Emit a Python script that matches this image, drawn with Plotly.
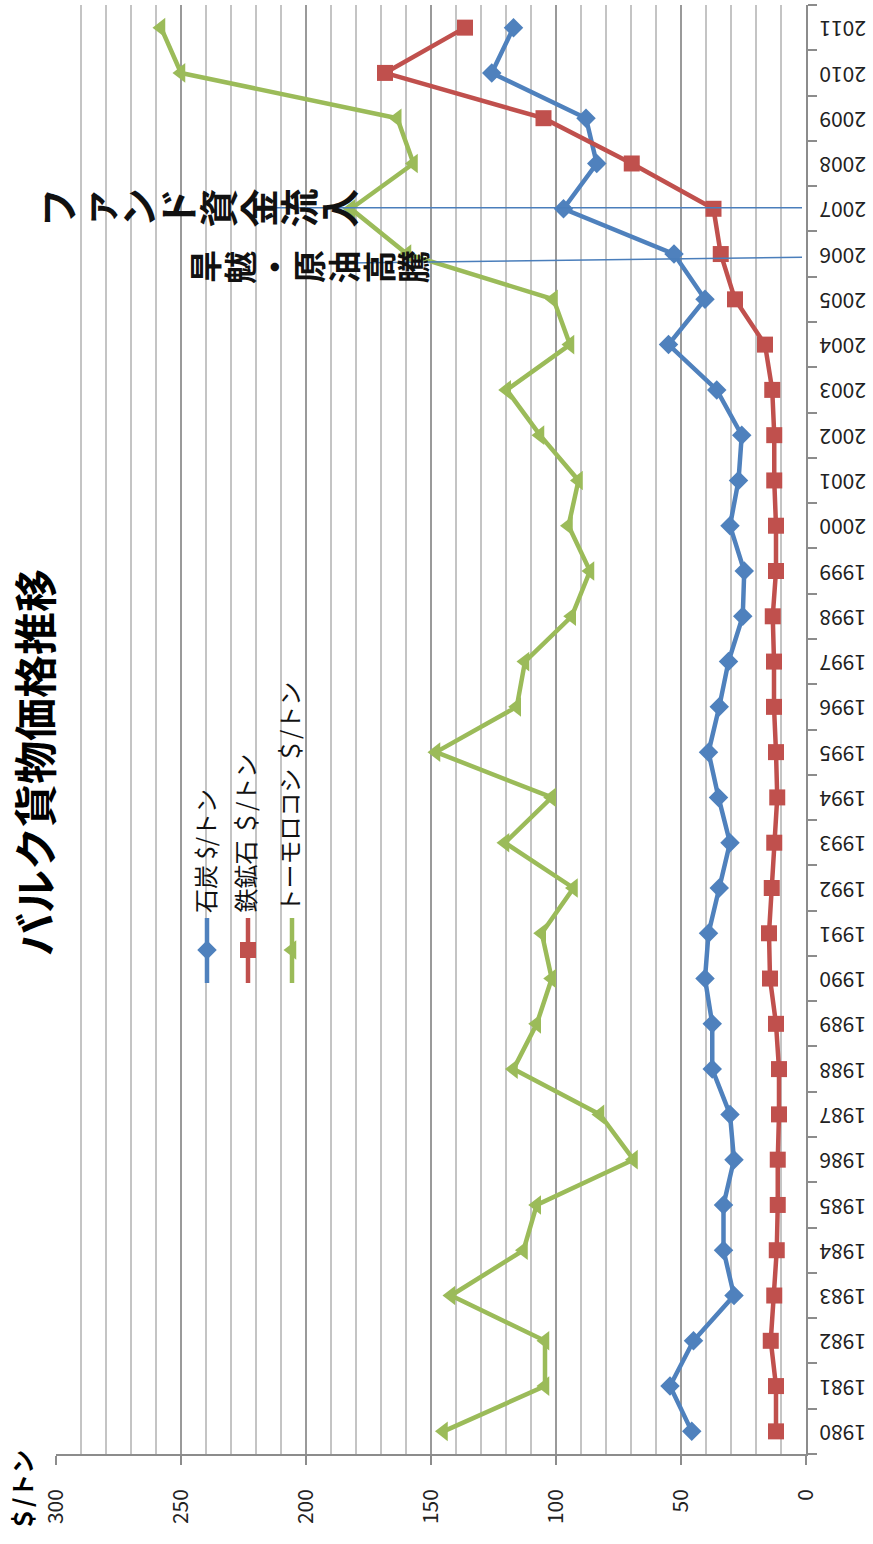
import plotly.graph_objects as go

# ---- data -------------------------------------------------------------
years = list(range(1980, 2012))

coal = [45.7, 54.4, 45.0, 28.8, 33.0, 33.0, 28.8, 30.4, 37.5, 37.5,
        40.4, 39.0, 34.7, 30.4, 35.0, 39.0, 34.7, 31.0, 25.3, 24.7,
        30.4, 27.0, 25.7, 35.7, 55.0, 40.4, 52.8, 97.0, 83.7, 88.0,
        125.7, 117.0]

iron_ore = [12.0, 12.0, 14.1, 12.7, 11.7, 11.3, 11.3, 10.8, 10.8, 12.0,
            14.4, 14.8, 13.7, 12.7, 11.5, 12.0, 12.8, 12.8, 13.3, 12.0,
            12.0, 12.7, 12.7, 13.5, 16.4, 28.4, 34.1, 37.0, 69.7, 105.0,
            168.4, 136.4]

corn = [145.0, 104.4, 104.4, 142.0, 113.0, 107.7, 69.0, 82.4, 117.0, 107.7,
        101.7, 105.7, 93.0, 120.4, 101.7, 148.0, 115.7, 112.4, 93.7, 86.4,
        95.0, 91.0, 106.4, 119.7, 94.4, 101.0, 159.6, 182.0, 157.0, 163.5,
        250.0, 258.0]

series_names = ["石炭 $/トン", "鉄鉱石 ＄/トン", "トーモロコシ ＄/トン"]
series_values = [coal, iron_ore, corn]
series_colors = ["#4F81BD", "#C0504D", "#9BBB59"]
series_symbols = ["diamond", "square", "triangle-left"]
series_sizes = [15, 16, 17]

value_ticks = [0, 50, 100, 150, 200, 250, 300]

title_text = "バルク貨物価格推移"
unit_text = "＄/トン"

# event notes: (text, leader start value, start year, end value, end year)
notes = [
    ("ファンド資金流入", 213.0, 2007.02, 1.6, 2007.02),
    ("旱魃・原油高騰", 183.6, 2005.80, 1.6, 2005.93),
]

FONT = "Noto Sans CJK JP"

# ---- geometry of the plotting area ------------------------------------
W, H = 873, 1544
L, R, T, B = 56, 806, 5, 1454


def px(xp):
    return (xp - L) / (R - L)


def py(yp):
    return 1 - (yp - T) / (B - T)


def to_val(xp):
    return 300 * (R - xp) / (R - L)


def to_year(yp):
    return 2011.5 - (yp - T) / (B - T) * 32


fig = go.Figure()

for name, vals, col, sym, sz in zip(series_names, series_values,
                                    series_colors, series_symbols, series_sizes):
    fig.add_trace(go.Scatter(
        x=vals, y=years, mode="lines+markers", name=name,
        line=dict(color=col, width=4.5),
        marker=dict(symbol=sym, size=sz, color=col),
        showlegend=False, cliponaxis=False,
    ))

# ---- rotated legend ----------------------------------------------------
legend_x = [207, 248, 292]
legend_text_x = [204, 244, 288]
for name, col, sym, sz, lx, tx in zip(series_names, series_colors,
                                      series_symbols, series_sizes,
                                      legend_x, legend_text_x):
    fig.add_trace(go.Scatter(
        x=[to_val(lx)] * 2, y=[to_year(918), to_year(983)], mode="lines",
        line=dict(color=col, width=4.5), showlegend=False, hoverinfo="skip"))
    fig.add_trace(go.Scatter(
        x=[to_val(lx)], y=[to_year(950)], mode="markers",
        marker=dict(symbol=sym, size=sz, color=col),
        showlegend=False, hoverinfo="skip"))
    fig.add_annotation(
        x=px(tx), y=py(915), xref="paper", yref="paper",
        text=name, textangle=-90, showarrow=False,
        xanchor="center", yanchor="bottom",
        font=dict(family=FONT, size=24, color="#111111"))

# ---- event notes: vertical text with leader lines -----------------------
note_layout = [
    dict(x0=56, pitch=40.1, yc=208, size=39),
    dict(x0=204, pitch=34.7, yc=267, size=33),
]
for (text, v0, y0, v1, y1), lay in zip(notes, note_layout):
    fig.add_shape(type="line", xref="x", yref="y",
                  x0=v0, y0=y0, x1=v1, y1=y1,
                  line=dict(color="#4A7EBB", width=1.5), layer="above")
    for i, ch in enumerate(text):
        fig.add_annotation(
            x=px(lay["x0"] + i * lay["pitch"]), y=py(lay["yc"]),
            xref="paper", yref="paper", text=ch, textangle=-90,
            showarrow=False, xanchor="center", yanchor="middle",
            font=dict(family=FONT, size=lay["size"], color="#111111",
                      weight="bold"))

# ---- title and unit label ------------------------------------------------
fig.add_annotation(
    x=px(33), y=py(763), xref="paper", yref="paper", text=title_text,
    textangle=-90, showarrow=False, xanchor="center", yanchor="middle",
    borderpad=0,
    font=dict(family=FONT, size=43, color="#000000", weight="bold"))

fig.add_annotation(
    x=px(21), y=py(1491), xref="paper", yref="paper", text=unit_text,
    textangle=-90, showarrow=False, xanchor="center", yanchor="middle",
    font=dict(family=FONT, size=24, color="#000000", weight="bold"))

# ---- axes ------------------------------------------------------------------
fig.update_xaxes(
    range=[300, 0], autorange=False,
    tickvals=value_ticks, ticktext=[str(v) for v in value_ticks],
    tickangle=-90, ticks="outside", ticklen=9, tickwidth=1.5,
    tickcolor="#8C8C8C", ticklabelstandoff=16,
    tickfont=dict(family=FONT, size=21, color="#222222"),
    showgrid=True, gridcolor="#9A9A9A", gridwidth=1.5,
    minor=dict(dtick=10, showgrid=True, gridcolor="#C4C4C4", gridwidth=1.5,
               ticks=""),
    showline=True, linecolor="#8C8C8C", linewidth=1.5,
    zeroline=False, automargin=False,
)

# year labels are drawn upside down; their anchor sits slightly below the year
label_shift = 0.16
fig.update_yaxes(
    range=[1979.5, 2011.5], autorange=False, side="right",
    tickvals=[y - label_shift for y in years],
    ticktext=[str(y) for y in years],
    tickangle=180, ticks="", ticklabelstandoff=54,
    tickfont=dict(family=FONT, size=21, color="#222222"),
    minor=dict(tickvals=[y - 0.5 for y in years] + [2011.5],
               ticks="outside", ticklen=9, tickwidth=1.5,
               tickcolor="#8C8C8C", showgrid=False),
    showgrid=False, showline=True, linecolor="#8C8C8C", linewidth=1.5,
    zeroline=False, automargin=False,
)

fig.update_layout(
    width=W, height=H, autosize=False,
    margin=dict(l=L, r=W - R, t=T, b=H - B, pad=0),
    paper_bgcolor="white", plot_bgcolor="white",
    showlegend=False,
    font=dict(family=FONT),
)

fig.write_html("out.html")
